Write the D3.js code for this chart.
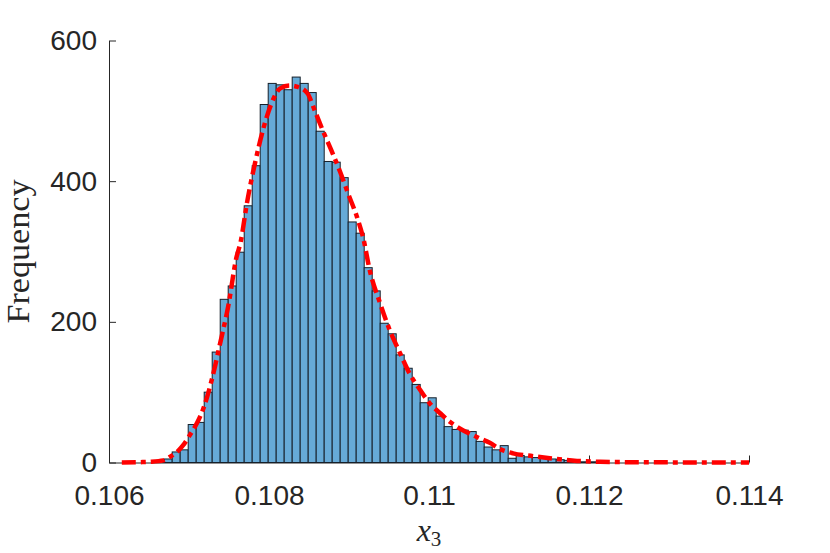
<!DOCTYPE html>
<html>
<head>
<meta charset="utf-8">
<script src="https://cdn.jsdelivr.net/npm/d3@7"></script>
<style>
  body { margin: 0; background: #fff; }
  #chart { width: 830px; height: 553px; }
</style>
</head>
<body>
<div id="chart"></div>
<script>

// histogram of x3 samples (bins of 0.0001 starting at 0.10659)
var binStart = 0.10659;
var binWidth = 0.0001;
var counts = [1, 5, 15, 18, 54, 57, 100, 157, 232, 251, 299, 365, 422, 509, 539, 537, 530, 548, 539, 526,
  471, 428, 427, 405, 342, 326, 277, 244, 198, 183, 153, 134, 111, 85, 92, 66, 51, 47, 46, 44,
  30, 22, 18, 24, 6, 10, 8, 7, 6, 5, 4, 3, 2, 1, 1];

// fitted density curve (scaled to frequency)
var curveX = [0.10616, 0.10639, 0.10651, 0.10668, 0.10676, 0.10685, 0.10693, 0.10701, 0.10710, 0.10719,
  0.10729, 0.10739, 0.10749, 0.10759, 0.10765, 0.10772, 0.10782, 0.10793, 0.10804, 0.10814,
  0.10826, 0.10836, 0.10848, 0.10858, 0.10868, 0.10879, 0.10889, 0.10899, 0.10910, 0.10918,
  0.10926, 0.10939, 0.10951, 0.10964, 0.10976, 0.10989, 0.11001, 0.11014, 0.11026, 0.11039,
  0.11051, 0.11064, 0.11076, 0.11089, 0.11105, 0.11130, 0.11151, 0.11185, 0.11214, 0.11255,
  0.11296, 0.11400];
var curveY = [0, 0.5, 1, 3, 8, 15, 25, 39, 56, 80,
  120, 170, 222, 290, 316, 366, 423, 475, 513, 532,
  536, 534, 525, 498, 470, 441, 413, 382, 349, 318,
  273, 226, 188, 155, 126, 103, 84, 70, 58, 48,
  41, 34, 28, 19, 13, 9, 6, 2.3, 1, 0.4,
  0.2, 0];

var xTicks = [0.106, 0.108, 0.11, 0.112, 0.114];
var yTicks = [0, 200, 400, 600];

var width = 830, height = 553;
var plotLeft = 109, plotRight = 749, plotTop = 40.5, plotBottom = 462.5;
var serif = "'Liberation Serif', 'Times New Roman', serif";
var sans = "'Liberation Sans', Arial, Helvetica, sans-serif";

var svg = d3.select("#chart")
  .append("svg")
  .attr("width", width)
  .attr("height", height);

svg.append("rect").attr("width", width).attr("height", height).attr("fill", "#fff");

var x = d3.scaleLinear().domain([0.106, 0.114]).range([plotLeft, plotRight]);
var y = d3.scaleLinear().domain([0, 600]).range([plotBottom, plotTop]);

// axes (ticks point inward, like matlab)
var xAxis = svg.append("g")
  .attr("transform", "translate(0," + plotBottom + ")")
  .call(d3.axisBottom(x)
    .tickValues(xTicks)
    .tickSizeInner(-7)
    .tickSizeOuter(0)
    .tickPadding(22.5)
    .tickFormat(function(d) { return +d.toFixed(3); }));

var yAxis = svg.append("g")
  .attr("transform", "translate(" + plotLeft + ",0)")
  .call(d3.axisLeft(y)
    .tickValues(yTicks)
    .tickSizeInner(-7)
    .tickSizeOuter(0)
    .tickPadding(12));

[xAxis, yAxis].forEach(function(g) {
  g.select(".domain").attr("stroke", "#262626").attr("stroke-width", 1);
  g.selectAll(".tick line").attr("stroke", "#262626").attr("stroke-width", 1);
  g.selectAll(".tick text")
    .attr("fill", "#262626")
    .attr("font-size", 28)
    .attr("font-family", sans);
});

// bars
var bins = counts.map(function(c, i) {
  return { x0: binStart + i * binWidth, x1: binStart + (i + 1) * binWidth, count: c };
});

svg.append("g")
  .selectAll("rect")
  .data(bins)
  .enter().append("rect")
  .attr("x", function(d) { return x(d.x0); })
  .attr("y", function(d) { return y(d.count); })
  .attr("width", function(d) { return x(d.x1) - x(d.x0); })
  .attr("height", function(d) { return y(0) - y(d.count); })
  .attr("fill", "#66aad7")
  .attr("stroke", "#16202a")
  .attr("stroke-width", 1);

// fitted curve, dash-dot red
var line = d3.line()
  .x(function(d) { return x(d[0]); })
  .y(function(d) { return y(d[1]); })
  .curve(d3.curveMonotoneX);

svg.append("path")
  .datum(d3.zip(curveX, curveY))
  .attr("d", line)
  .attr("fill", "none")
  .attr("stroke", "#ff0000")
  .attr("stroke-width", 4.5)
  .attr("stroke-dasharray", "14,5,5,5");

// axis labels
svg.append("text")
  .attr("transform", "translate(29," + ((plotTop + plotBottom) / 2) + ") rotate(-90)")
  .attr("text-anchor", "middle")
  .attr("textLength", 144)
  .attr("lengthAdjust", "spacingAndGlyphs")
  .attr("font-family", serif)
  .attr("font-size", 31)
  .attr("fill", "#262626")
  .text("Frequency");

var xl = svg.append("text")
  .attr("x", (plotLeft + plotRight) / 2)
  .attr("y", 541)
  .attr("text-anchor", "middle")
  .attr("font-family", serif)
  .attr("fill", "#262626");
xl.append("tspan")
  .attr("font-family", serif)
  .attr("font-style", "italic")
  .attr("font-size", 32)
  .text("x");
xl.append("tspan")
  .attr("font-family", serif)
  .attr("dy", 5)
  .attr("font-size", 21)
  .text("3");

</script>
</body>
</html>
